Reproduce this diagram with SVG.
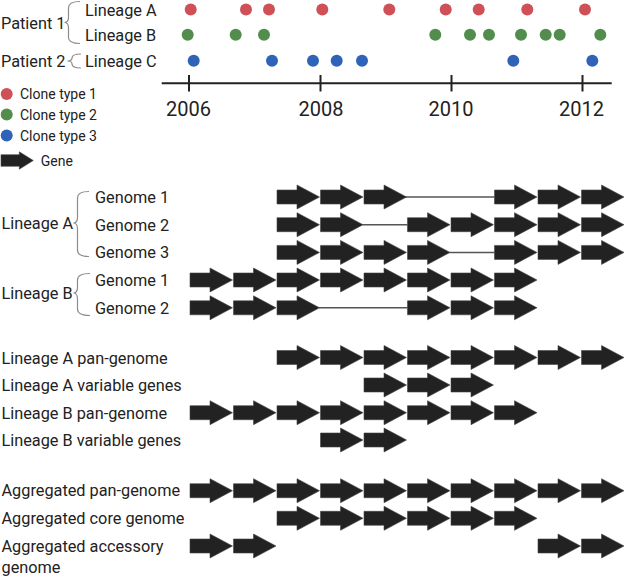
<svg xmlns="http://www.w3.org/2000/svg" xmlns:xlink="http://www.w3.org/1999/xlink" width="625" height="576" viewBox="0 0 625 576">
<defs>
<style>
text{font-family:Roboto,"Liberation Sans",Arial,sans-serif;fill:#222;}
.t16{font-size:16.3px;}
.t14{font-size:14px;}
.t20{font-size:20px;}
.mid{text-anchor:middle;}
.brace{fill:none;stroke:#8c8c8c;stroke-width:1.2;}
.axis{stroke:#222;stroke-width:2;fill:none;}
.link{stroke:#555;stroke-width:1.5;fill:none;}
.gene{fill:#222;stroke:#444;stroke-width:0.6;}
.c1{fill:#cf5157;}
.c2{fill:#538d4e;}
.c3{fill:#2e63b8;}
</style>
<path id="g" class="gene" d="M0,-7 H20 V-12 L42.5,0 L20,12 V7 H0 Z"/>
</defs>

<!-- Timeline -->
<g id="patients">
<text class="t16" x="1" y="28.5">Patient 1</text>
<text class="t16" x="1" y="66.5">Patient 2</text>
<path class="brace" d="M80,1.5 Q68.5,1.5 68.5,8 V17 Q68.5,22.5 64.5,22.5 Q68.5,22.5 68.5,28 V37.5 Q68.5,43.5 80,43.5"/>
<path class="brace" d="M81,54 Q72,54 72,58 Q72,61 67.5,61 Q72,61 72,64 Q72,68 81,68"/>
<text class="t16" x="85" y="15.5">Lineage A</text>
<text class="t16" x="85" y="40.7">Lineage B</text>
<text class="t16" x="85" y="66.5">Lineage C</text>
</g>
<g id="dots-lineageA">
<circle class="c1" cx="190.7" cy="9.5" r="6"/>
<circle class="c1" cx="246" cy="9.5" r="6"/>
<circle class="c1" cx="269" cy="9.5" r="6"/>
<circle class="c1" cx="322.3" cy="9.5" r="6"/>
<circle class="c1" cx="389.3" cy="9.5" r="6"/>
<circle class="c1" cx="445.7" cy="9.5" r="6"/>
<circle class="c1" cx="478.7" cy="9.5" r="6"/>
<circle class="c1" cx="527.3" cy="9.5" r="6"/>
<circle class="c1" cx="585" cy="9.5" r="6"/>
</g>
<g id="dots-lineageB">
<circle class="c2" cx="187.7" cy="34.7" r="6"/>
<circle class="c2" cx="235.7" cy="34.7" r="6"/>
<circle class="c2" cx="264" cy="34.7" r="6"/>
<circle class="c2" cx="435.3" cy="34.7" r="6"/>
<circle class="c2" cx="470" cy="34.7" r="6"/>
<circle class="c2" cx="489" cy="34.7" r="6"/>
<circle class="c2" cx="521" cy="34.7" r="6"/>
<circle class="c2" cx="545.7" cy="34.7" r="6"/>
<circle class="c2" cx="559.7" cy="34.7" r="6"/>
<circle class="c2" cx="600.3" cy="34.7" r="6"/>
</g>
<g id="dots-lineageC">
<circle class="c3" cx="193.7" cy="60.7" r="6"/>
<circle class="c3" cx="272" cy="60.7" r="6"/>
<circle class="c3" cx="313" cy="60.7" r="6"/>
<circle class="c3" cx="336.7" cy="60.7" r="6"/>
<circle class="c3" cx="362" cy="60.7" r="6"/>
<circle class="c3" cx="513.3" cy="60.7" r="6"/>
<circle class="c3" cx="592.3" cy="60.7" r="6"/>
</g>
<g id="axis">
<path class="axis" d="M161.7,83.3 H611.7 M189,75 V91.5 M320.5,75 V91.5 M451.5,75 V91.5 M582.5,75 V91.5"/>
<text class="t20 mid" x="188.5" y="115.5">2006</text>
<text class="t20 mid" x="321" y="115.5">2008</text>
<text class="t20 mid" x="451" y="115.5">2010</text>
<text class="t20 mid" x="581.5" y="115.5">2012</text>
</g>

<!-- Legend -->
<g id="legend">
<circle class="c1" cx="6.7" cy="94" r="6"/>
<text class="t14" x="20" y="99">Clone type 1</text>
<circle class="c2" cx="6.7" cy="114.5" r="6"/>
<text class="t14" x="20" y="120">Clone type 2</text>
<circle class="c3" cx="6.7" cy="135.5" r="6"/>
<text class="t14" x="20" y="141">Clone type 3</text>
<path class="gene" d="M1,154.7 H19.3 V151.8 L33.3,160.5 L19.3,169.2 V166.3 H1 Z"/>
<text class="t14" x="40.7" y="165.7">Gene</text>
</g>

<!-- Genomes -->
<g id="genome-labels">
<text class="t16" x="1.5" y="228.5">Lineage A</text>
<text class="t16" x="1.5" y="298.5">Lineage B</text>
<path class="brace" d="M89,191.5 Q77.5,191.5 77.5,198 V217 Q77.5,223 73.5,223 Q77.5,223 77.5,229 V250 Q77.5,256.5 89,256.5"/>
<path class="brace" d="M90,273.5 Q77.5,273.5 77.5,280 V287 Q77.5,293 73.5,293 Q77.5,293 77.5,299 V309 Q77.5,315.5 90,315.5"/>
<text class="t16" x="95" y="202.5">Genome 1</text>
<text class="t16" x="95" y="230.5">Genome 2</text>
<text class="t16" x="95" y="258">Genome 3</text>
<text class="t16" x="95" y="285.5">Genome 1</text>
<text class="t16" x="95" y="313.5">Genome 2</text>
</g>

<g id="connectors">
<path class="link" d="M405,197 H494.5"/>
<path class="link" d="M362.5,224.7 H407.5"/>
<path class="link" d="M449.5,252.4 H494.5"/>
<path class="link" d="M319,307.8 H407.5"/>
</g>

<g id="lineageA-genome1">
<use xlink:href="#g" x="277" y="197"/><use xlink:href="#g" x="320.5" y="197"/><use xlink:href="#g" x="364" y="197"/>
<use xlink:href="#g" x="494.5" y="197"/><use xlink:href="#g" x="538" y="197"/><use xlink:href="#g" x="581.5" y="197"/>
</g>
<g id="lineageA-genome2">
<use xlink:href="#g" x="277" y="224.7"/><use xlink:href="#g" x="320.5" y="224.7"/>
<use xlink:href="#g" x="407.5" y="224.7"/><use xlink:href="#g" x="451" y="224.7"/><use xlink:href="#g" x="494.5" y="224.7"/><use xlink:href="#g" x="538" y="224.7"/><use xlink:href="#g" x="581.5" y="224.7"/>
</g>
<g id="lineageA-genome3">
<use xlink:href="#g" x="277" y="252.4"/><use xlink:href="#g" x="320.5" y="252.4"/><use xlink:href="#g" x="364" y="252.4"/><use xlink:href="#g" x="407.5" y="252.4"/>
<use xlink:href="#g" x="494.5" y="252.4"/><use xlink:href="#g" x="538" y="252.4"/><use xlink:href="#g" x="581.5" y="252.4"/>
</g>
<g id="lineageB-genome1">
<use xlink:href="#g" x="190" y="280"/><use xlink:href="#g" x="233.5" y="280"/><use xlink:href="#g" x="277" y="280"/><use xlink:href="#g" x="320.5" y="280"/><use xlink:href="#g" x="364" y="280"/><use xlink:href="#g" x="407.5" y="280"/><use xlink:href="#g" x="451" y="280"/><use xlink:href="#g" x="494.5" y="280"/>
</g>
<g id="lineageB-genome2">
<use xlink:href="#g" x="190" y="307.8"/><use xlink:href="#g" x="233.5" y="307.8"/><use xlink:href="#g" x="277" y="307.8"/>
<use xlink:href="#g" x="407.5" y="307.8"/><use xlink:href="#g" x="451" y="307.8"/><use xlink:href="#g" x="494.5" y="307.8"/>
</g>

<!-- Pan-genomes -->
<g id="lineageA-pan">
<text class="t16" x="1.5" y="364">Lineage A pan-genome</text>
<use xlink:href="#g" x="277" y="357.5"/><use xlink:href="#g" x="320.5" y="357.5"/><use xlink:href="#g" x="364" y="357.5"/><use xlink:href="#g" x="407.5" y="357.5"/><use xlink:href="#g" x="451" y="357.5"/><use xlink:href="#g" x="494.5" y="357.5"/><use xlink:href="#g" x="538" y="357.5"/><use xlink:href="#g" x="581.5" y="357.5"/>
</g>
<g id="lineageA-variable">
<text class="t16" x="1.5" y="390.7">Lineage A variable genes</text>
<use xlink:href="#g" x="364" y="385"/><use xlink:href="#g" x="407.5" y="385"/><use xlink:href="#g" x="451" y="385"/>
</g>
<g id="lineageB-pan">
<text class="t16" x="1.5" y="419">Lineage B pan-genome</text>
<use xlink:href="#g" x="190" y="412.7"/><use xlink:href="#g" x="233.5" y="412.7"/><use xlink:href="#g" x="277" y="412.7"/><use xlink:href="#g" x="320.5" y="412.7"/><use xlink:href="#g" x="364" y="412.7"/><use xlink:href="#g" x="407.5" y="412.7"/><use xlink:href="#g" x="451" y="412.7"/><use xlink:href="#g" x="494.5" y="412.7"/>
</g>
<g id="lineageB-variable">
<text class="t16" x="1.5" y="445.7">Lineage B variable genes</text>
<use xlink:href="#g" x="320.5" y="440"/><use xlink:href="#g" x="364" y="440"/>
</g>

<!-- Aggregated -->
<g id="aggregated-pan">
<text class="t16" x="1.5" y="496">Aggregated pan-genome</text>
<use xlink:href="#g" x="190" y="490.7"/><use xlink:href="#g" x="233.5" y="490.7"/><use xlink:href="#g" x="277" y="490.7"/><use xlink:href="#g" x="320.5" y="490.7"/><use xlink:href="#g" x="364" y="490.7"/><use xlink:href="#g" x="407.5" y="490.7"/><use xlink:href="#g" x="451" y="490.7"/><use xlink:href="#g" x="494.5" y="490.7"/><use xlink:href="#g" x="538" y="490.7"/><use xlink:href="#g" x="581.5" y="490.7"/>
</g>
<g id="aggregated-core">
<text class="t16" x="1.5" y="523.5">Aggregated core genome</text>
<use xlink:href="#g" x="277" y="518.3"/><use xlink:href="#g" x="320.5" y="518.3"/><use xlink:href="#g" x="364" y="518.3"/><use xlink:href="#g" x="407.5" y="518.3"/><use xlink:href="#g" x="451" y="518.3"/><use xlink:href="#g" x="494.5" y="518.3"/>
</g>
<g id="aggregated-accessory">
<text class="t16" x="1.5" y="551.7">Aggregated accessory</text>
<text class="t16" x="1.5" y="573">genome</text>
<use xlink:href="#g" x="190" y="546"/><use xlink:href="#g" x="233.5" y="546"/>
<use xlink:href="#g" x="538" y="546"/><use xlink:href="#g" x="581.5" y="546"/>
</g>
</svg>
